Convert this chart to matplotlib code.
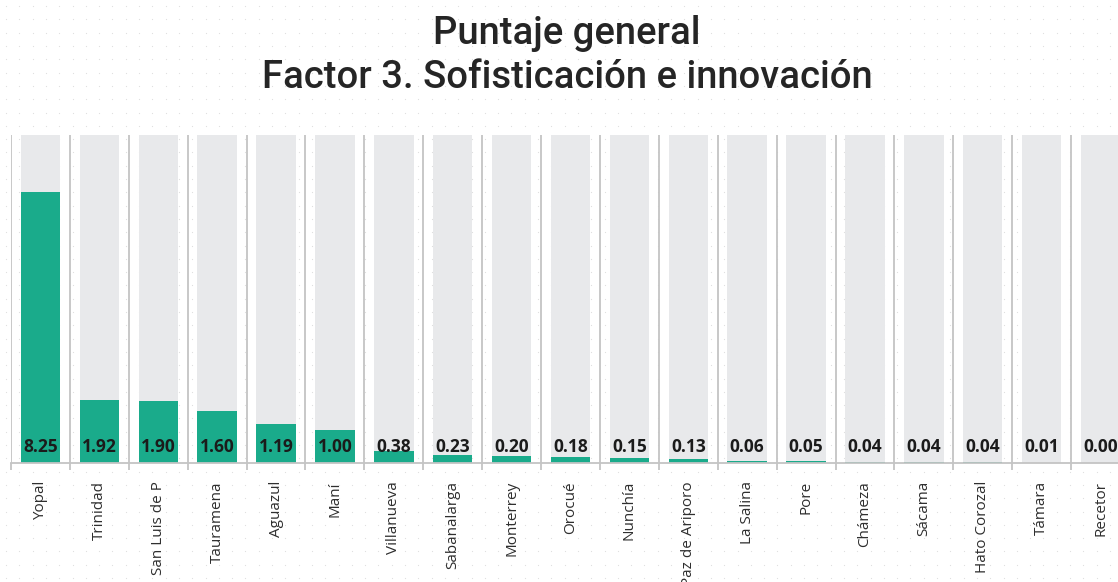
import matplotlib
matplotlib.use("Agg")
import matplotlib.pyplot as plt
import numpy as np

municipios = ["Yopal", "Trinidad", "San Luis de P", "Tauramena", "Aguazul", "Maní",
              "Villanueva", "Sabanalarga", "Monterrey", "Orocué", "Nunchía",
              "Paz de Ariporo", "La Salina", "Pore", "Chámeza", "Sácama",
              "Hato Corozal", "Támara", "Recetor"]
puntaje = [8.25, 1.92, 1.90, 1.60, 1.19, 1.00, 0.38, 0.23, 0.20, 0.18, 0.15,
           0.13, 0.06, 0.05, 0.04, 0.04, 0.04, 0.01, 0.00]
maximo = 10

W, H = 1118, 582
fig = plt.figure(figsize=(W / 100, H / 100), dpi=100)
fig.patch.set_facecolor("white")

# dotted background
bg = fig.add_axes([0, 0, 1, 1], zorder=-10)
bg.set_xlim(0, W); bg.set_ylim(0, H); bg.axis("off")
gx, gy = np.meshgrid(np.arange(6, W, 13.3), np.arange(4, H, 13.3))
bg.scatter(gx.ravel(), gy.ravel(), s=0.7, color="#dedede", linewidths=0)

left, right_px, top_px, base_px = 11, 1130, 135, 463
ax = fig.add_axes([left / W, (H - base_px) / H, (right_px - left) / W, (base_px - top_px) / H])
ax.patch.set_alpha(0)
x = np.arange(len(municipios))
ax.bar(x, [maximo] * len(x), width=0.67, color="#e8e9eb", zorder=1)
ax.bar(x, puntaje, width=0.67, color="#1aab8b", zorder=2)
for xi, v in zip(x, puntaje):
    ax.text(xi, 0.5, f"{v:.2f}", ha="center", va="center", fontsize=12.5,
            fontweight="bold", family="Open Sans", color="#1b1b1b", zorder=3)

ax.set_xlim(-0.5, len(x) - 0.5)
ax.set_ylim(0, maximo)
ax.vlines(np.arange(-0.5, len(x), 1.0), 0, 10.1, color="#c4c4c4", lw=1.3, zorder=0)
ax.set_xticks(x)
ax.set_xticklabels(municipios, rotation=90, fontsize=11, family="Open Sans", color="#2e2e2e")
ax.set_xticks(np.arange(-0.5, len(x), 1.0), minor=True)
ax.tick_params(axis="x", which="major", length=0, pad=13)
ax.tick_params(axis="x", which="minor", length=5, color="#c4c4c4", width=1.3)
ax.set_yticks([])
for s in ["top", "right", "left"]:
    ax.spines[s].set_visible(False)
ax.spines["bottom"].set_color("#c4c4c4")
ax.spines["bottom"].set_linewidth(1.3)

fig.text(0.507, 1 - 33 / H, "Puntaje general", ha="center", va="center",
         fontsize=27.5, family="Roboto", fontweight="medium", color="#252525")
fig.text(0.507, 1 - 78 / H, "Factor 3. Sofisticación e innovación", ha="center", va="center",
         fontsize=27.5, family="Roboto", fontweight="medium", color="#252525")

fig.savefig("out.png", dpi=100, facecolor="white")
